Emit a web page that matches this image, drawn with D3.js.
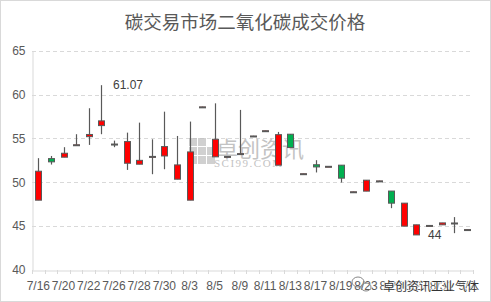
<!DOCTYPE html>
<html>
<head>
    <meta charset="utf-8">
    <style>
        body { margin: 0; background: #fff; }
        svg text { font-family: "Noto Sans CJK SC", "Liberation Sans", sans-serif; }
    </style>
</head>
<body>
    <svg width="491" height="302"></svg>

<script src="https://d3js.org/d3.v7.min.js"></script>
<script>
    // trading days
    let dates = ["7/16","7/19","7/20","7/21","7/22","7/23","7/26","7/27","7/28","7/29","7/30",
                 "8/2","8/3","8/4","8/5","8/6","8/9","8/10","8/11","8/12","8/13",
                 "8/16","8/17","8/18","8/19","8/20","8/23","8/24","8/25","8/26","8/27",
                 "8/30","8/31","9/1","9/2"]
    let open  = [47.96,52.70,52.86,54.22,55.20,56.46,54.36,52.17,52.06,52.90,53.00,
                 50.35,47.96,58.60,52.90,52.95,53.25,55.28,55.88,51.95,55.48,
                 50.98,52.00,51.82,51.95,48.92,48.99,50.16,49.00,45.00,44.00,
                 45.08,45.15,45.34,44.61]
    let high  = [52.75,53.00,54.00,55.48,58.44,61.07,54.75,55.66,56.80,54.90,58.05,
                 55.28,56.92,58.62,59.00,52.97,58.25,55.30,55.90,55.74,55.50,
                 51.00,52.52,51.85,51.95,48.94,50.26,50.18,49.00,47.62,45.15,
                 45.10,45.37,46.03,44.63]
    let low   = [47.96,52.02,52.86,54.15,54.26,55.48,54.00,51.41,52.06,50.92,51.49,
                 50.35,47.96,58.58,52.90,52.93,53.20,55.26,55.86,51.95,53.96,
                 50.96,51.12,51.80,49.97,48.90,48.99,50.14,47.05,45.00,44.00,
                 45.06,45.15,44.20,44.59]
    let close = [51.26,52.33,53.31,54.28,55.45,57.00,54.32,54.64,52.50,52.95,54.07,
                 51.98,53.46,58.60,54.90,52.95,53.27,55.28,55.88,55.43,53.96,
                 50.98,51.75,51.82,50.47,48.92,50.24,50.16,47.62,47.62,45.15,
                 45.08,45.37,45.36,44.61]
    let yTicks = [40, 45, 50, 55, 60, 65]
    let labelled = [[5, "high", "61.07"], [30, "low", "44"]]

    let svg = d3.select("svg")
    let grey = "#595959"

    // outer frame
    svg.append("rect")
        .attr("x", 0.5).attr("y", 0.5)
        .attr("width", 490).attr("height", 301)
        .style("fill", "none")
        .style("stroke", "#d9d9d9")

    svg.append("text")
        .attr("x", 245).attr("y", 29)
        .attr("text-anchor", "middle")
        .style("font-size", "18.5px")
        .style("fill", grey)
        .text("碳交易市场二氧化碳成交价格")

    let x = d3.scaleBand()
        .domain(dates)
        .range([32, 473])

    let y = d3.scaleLinear()
        .domain([40, 65])
        .range([270, 50.7])

    // gridlines
    svg.append("g")
        .selectAll("line")
        .data(yTicks.filter(d => d > 40))
        .join("line")
        .attr("x1", 32).attr("x2", 473)
        .attr("y1", d => Math.round(y(d)) + 0.5)
        .attr("y2", d => Math.round(y(d)) + 0.5)
        .style("stroke", "#d9d9d9")
        .style("stroke-dasharray", "4,3")

    // y axis
    let yAxis = svg.append("g")
        .attr("transform", "translate(32.5,0)")
        .call(d3.axisLeft(y).tickValues(yTicks).tickSize(0).tickPadding(7))
    yAxis.select(".domain").style("stroke", "#d9d9d9")
    yAxis.selectAll("text")
        .style("font-size", "12px")
        .style("fill", grey)
        .style("font-family", "Liberation Sans, sans-serif")

    // x axis
    let xAxis = svg.append("g")
        .attr("transform", "translate(0,270.5)")
        .call(d3.axisBottom(x)
            .tickValues(dates.filter((d, i) => i % 2 == 0))
            .tickSize(0).tickPadding(11))
    xAxis.select(".domain").style("stroke", "#d9d9d9")
    xAxis.selectAll("text")
        .style("font-size", "12px")
        .style("fill", grey)
        .style("font-family", "Liberation Sans, sans-serif")

    // boundary ticks between categories
    svg.append("g")
        .selectAll("line")
        .data(d3.range(dates.length + 1))
        .join("line")
        .attr("x1", i => Math.round(32 + i * x.bandwidth()) + 0.5)
        .attr("x2", i => Math.round(32 + i * x.bandwidth()) + 0.5)
        .attr("y1", 270).attr("y2", 274)
        .style("stroke", "#d9d9d9")

    // centre watermark
    let wm = svg.append("g").style("opacity", 0.7)
    wm.selectAll("rect")
        .data([[0,0],[9,0],[0,9],[9,9],[18,9],[18,18],[9,18],[0,18]])
        .join("rect")
        .attr("x", d => 189 + d[0]).attr("y", d => 138 + d[1])
        .attr("width", 8).attr("height", 8)
        .style("fill", "#bdbdbd")
    wm.append("text")
        .attr("x", 216).attr("y", 157)
        .style("font-size", "22px")
        .style("fill", "#aaaaaa")
        .text("卓创资讯")
    wm.append("text")
        .attr("x", 214).attr("y", 167)
        .style("font-size", "11px")
        .style("font-family", "Liberation Serif, serif")
        .style("letter-spacing", "1.5px")
        .style("fill", "#aaaaaa")
        .text("SCI99.COM")

    // candles
    let idx = d3.range(dates.length)
    let cx = i => Math.round(x(dates[i]) + x.bandwidth() / 2)
    let candles = svg.append("g")

    candles.selectAll("line")
        .data(idx)
        .join("line")
        .attr("x1", i => cx(i) + 0.5)
        .attr("x2", i => cx(i) + 0.5)
        .attr("y1", i => y(high[i]))
        .attr("y2", i => y(low[i]))
        .style("stroke", grey)
        .style("stroke-width", 1.2)

    candles.selectAll("rect")
        .data(idx)
        .join("rect")
        .attr("x", i => cx(i) - 2.5)
        .attr("y", i => y(Math.max(open[i], close[i])))
        .attr("width", 6)
        .attr("height", i => Math.max(1, Math.abs(y(open[i]) - y(close[i]))))
        .style("fill", i => close[i] >= open[i] ? "#ff0000" : "#00b050")
        .style("stroke", grey)
        .style("stroke-width", 1)

    // data labels
    svg.append("g")
        .selectAll("text")
        .data(labelled)
        .join("text")
        .attr("x", d => cx(d[0]) + 12)
        .attr("y", d => y(d[1] == "high" ? high[d[0]] : low[d[0]]))
        .attr("dy", "0.35em")
        .style("font-size", "12px")
        .style("font-family", "Liberation Sans, sans-serif")
        .style("fill", "#404040")
        .text(d => d[2])

    // corner watermark (lies over the last axis labels, as in the source image)
    let cw = svg.append("g")
    cw.append("ellipse")
        .attr("cx", 358).attr("cy", 282).attr("rx", 6).attr("ry", 5)
        .style("fill", "none").style("stroke", "#888").style("stroke-width", 1)
    cw.append("ellipse")
        .attr("cx", 366).attr("cy", 287).attr("rx", 5).attr("ry", 4)
        .style("fill", "none").style("stroke", "#888").style("stroke-width", 1)
    cw.append("text")
        .attr("x", 383).attr("y", 291)
        .style("font-size", "12px")
        .style("fill", "#333")
        .style("stroke", "rgba(255,255,255,0.7)")
        .style("stroke-width", 2)
        .style("paint-order", "stroke")
        .text("卓创资讯工业气体")
</script>
</body>
</html>
